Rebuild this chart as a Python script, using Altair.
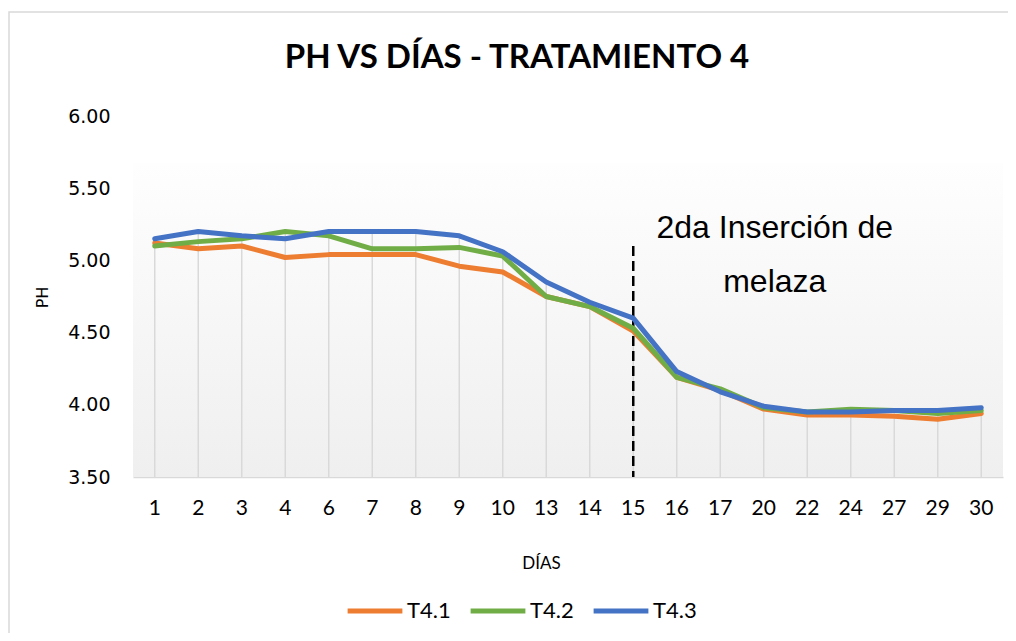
import altair as alt
import pandas as pd

dias = ["1", "2", "3", "4", "6", "7", "8", "9", "10", "13", "14", "15",
        "16", "17", "20", "22", "24", "27", "29", "30"]
t41 = [5.12, 5.08, 5.10, 5.02, 5.04, 5.04, 5.04, 4.96, 4.92, 4.75, 4.68, 4.51,
       4.19, 4.10, 3.97, 3.93, 3.93, 3.92, 3.90, 3.94]
t42 = [5.10, 5.13, 5.15, 5.20, 5.17, 5.08, 5.08, 5.09, 5.03, 4.75, 4.68, 4.53,
       4.19, 4.11, 3.98, 3.95, 3.97, 3.96, 3.94, 3.96]
t43 = [5.15, 5.20, 5.17, 5.15, 5.20, 5.20, 5.20, 5.17, 5.06, 4.85, 4.71, 4.60,
       4.23, 4.09, 3.99, 3.95, 3.95, 3.96, 3.96, 3.98]
series = ["T4.1", "T4.2", "T4.3"]
colors = ["#ED7D31", "#70AD47", "#4472C4"]

marker_dia = "15"
marker_top = 5.10
note_lines = ["2da Inserción de", "melaza"]
note_y = [5.153, 4.783]
note_dia = "20"

y_ticks = [3.5, 4.0, 4.5, 5.0, 5.5, 6.0]

rows = []
for s, vals in zip(series, [t41, t42, t43]):
    for d, v in zip(dias, vals):
        rows.append({"dia": d, "serie": s, "ph": v, "orden": series.index(s)})
df = pd.DataFrame(rows)

xscale = alt.Scale(type="band", domain=dias, paddingInner=0, paddingOuter=0)
xenc = alt.X("dia:N", sort=dias, scale=xscale,
             axis=alt.Axis(title="DÍAS", labelAngle=0, ticks=False, domain=True,
                           domainColor="#d9d9d9", domainWidth=1.5,
                           labelFont="Lato", labelFontSize=21, labelColor="#000000",
                           labelPadding=20, titleFont="Lato", titleFontSize=17,
                           titleFontWeight="normal", titleColor="#000000",
                           titleX=408, titleY=86, titleBaseline="middle"))
xplain = alt.X("dia:N", sort=dias, scale=xscale)
yscale = alt.Scale(domain=[3.5, 6.0], nice=False, zero=False)
yenc_axis = alt.Axis(values=y_ticks, format=".2f", title="PH", grid=False, ticks=False,
                     domain=False, labelFont="DejaVu Sans", labelFontSize=19,
                     labelColor="#000000", labelPadding=23, titleFont="DejaVu Sans",
                     titleFontSize=16, titleFontWeight="normal", titleColor="#000000",
                     titleX=-91, titleY=181, titleBaseline="middle")

base = alt.Chart(df)

bg = alt.Chart(pd.DataFrame({"a": [0]})).mark_rect(
    color=alt.Gradient(gradient="linear",
                       stops=[alt.GradientStop(color="#fefefe", offset=0),
                              alt.GradientStop(color="#efefef", offset=1)],
                       x1=0, x2=0, y1=0, y2=1)
).encode(x=alt.value(0), x2=alt.value(870),
         y=alt.datum(5.675, scale=yscale), y2=alt.datum(3.5))

drops = base.mark_rule(color="#d9d9d9", strokeWidth=1.5).encode(
    x=xenc,
    y=alt.Y("max(ph):Q", scale=yscale, axis=yenc_axis),
    y2=alt.datum(3.5),
)

marker = alt.Chart(pd.DataFrame({"dia": [marker_dia], "top": [marker_top], "bot": [3.5]})).mark_rule(
    color="#000000", strokeWidth=2.5, strokeDash=[10, 5]
).encode(x=xplain, y=alt.Y("top:Q", scale=yscale), y2="bot:Q")

lines = base.mark_line(strokeWidth=5, strokeCap="round", strokeJoin="round").encode(
    x=xplain,
    y=alt.Y("ph:Q", scale=yscale),
    color=alt.Color("serie:N", scale=alt.Scale(domain=series, range=colors),
                    legend=alt.Legend(title=None, orient="none", legendX=212, legendY=465,
                                      direction="horizontal", symbolType="stroke",
                                      symbolSize=3000, symbolStrokeWidth=5,
                                      labelFont="Lato", labelFontSize=22,
                                      labelColor="#000000", labelOffset=2,
                                      columnPadding=9)),
    order=alt.Order("orden:Q"),
    detail="serie:N",
)

note = alt.Chart(pd.DataFrame({"dia": [note_dia] * 2, "y": note_y, "t": note_lines})).mark_text(
    font="Liberation Sans", fontSize=32, color="#000000", baseline="alphabetic", align="center", dx=11
).encode(x=xplain, y=alt.Y("y:Q", scale=yscale), text="t:N")

border = alt.Chart(pd.DataFrame({"a": [0]})).mark_rect(
    fill=None, stroke="#d9d9d9", strokeWidth=1.5
).encode(x=alt.value(-124), x2=alt.value(920), y=alt.value(-104), y2=alt.value(560))

chart = alt.layer(bg, drops, marker, lines, note, border).properties(
    width=870, height=361,
    title=alt.Title("PH VS DÍAS - TRATAMIENTO 4", font="Lato", fontSize=33,
                    fontWeight="bold", color="#000000", anchor="middle", dx=-51, offset=-64),
    autosize=alt.AutoSizeParams(type="none"),
    padding={"left": 125, "top": 108, "right": 5, "bottom": 156},
    background="#ffffff",
).configure_view(stroke=None)

chart.save("out.html", embed_options={"renderer": "svg", "actions": False})
